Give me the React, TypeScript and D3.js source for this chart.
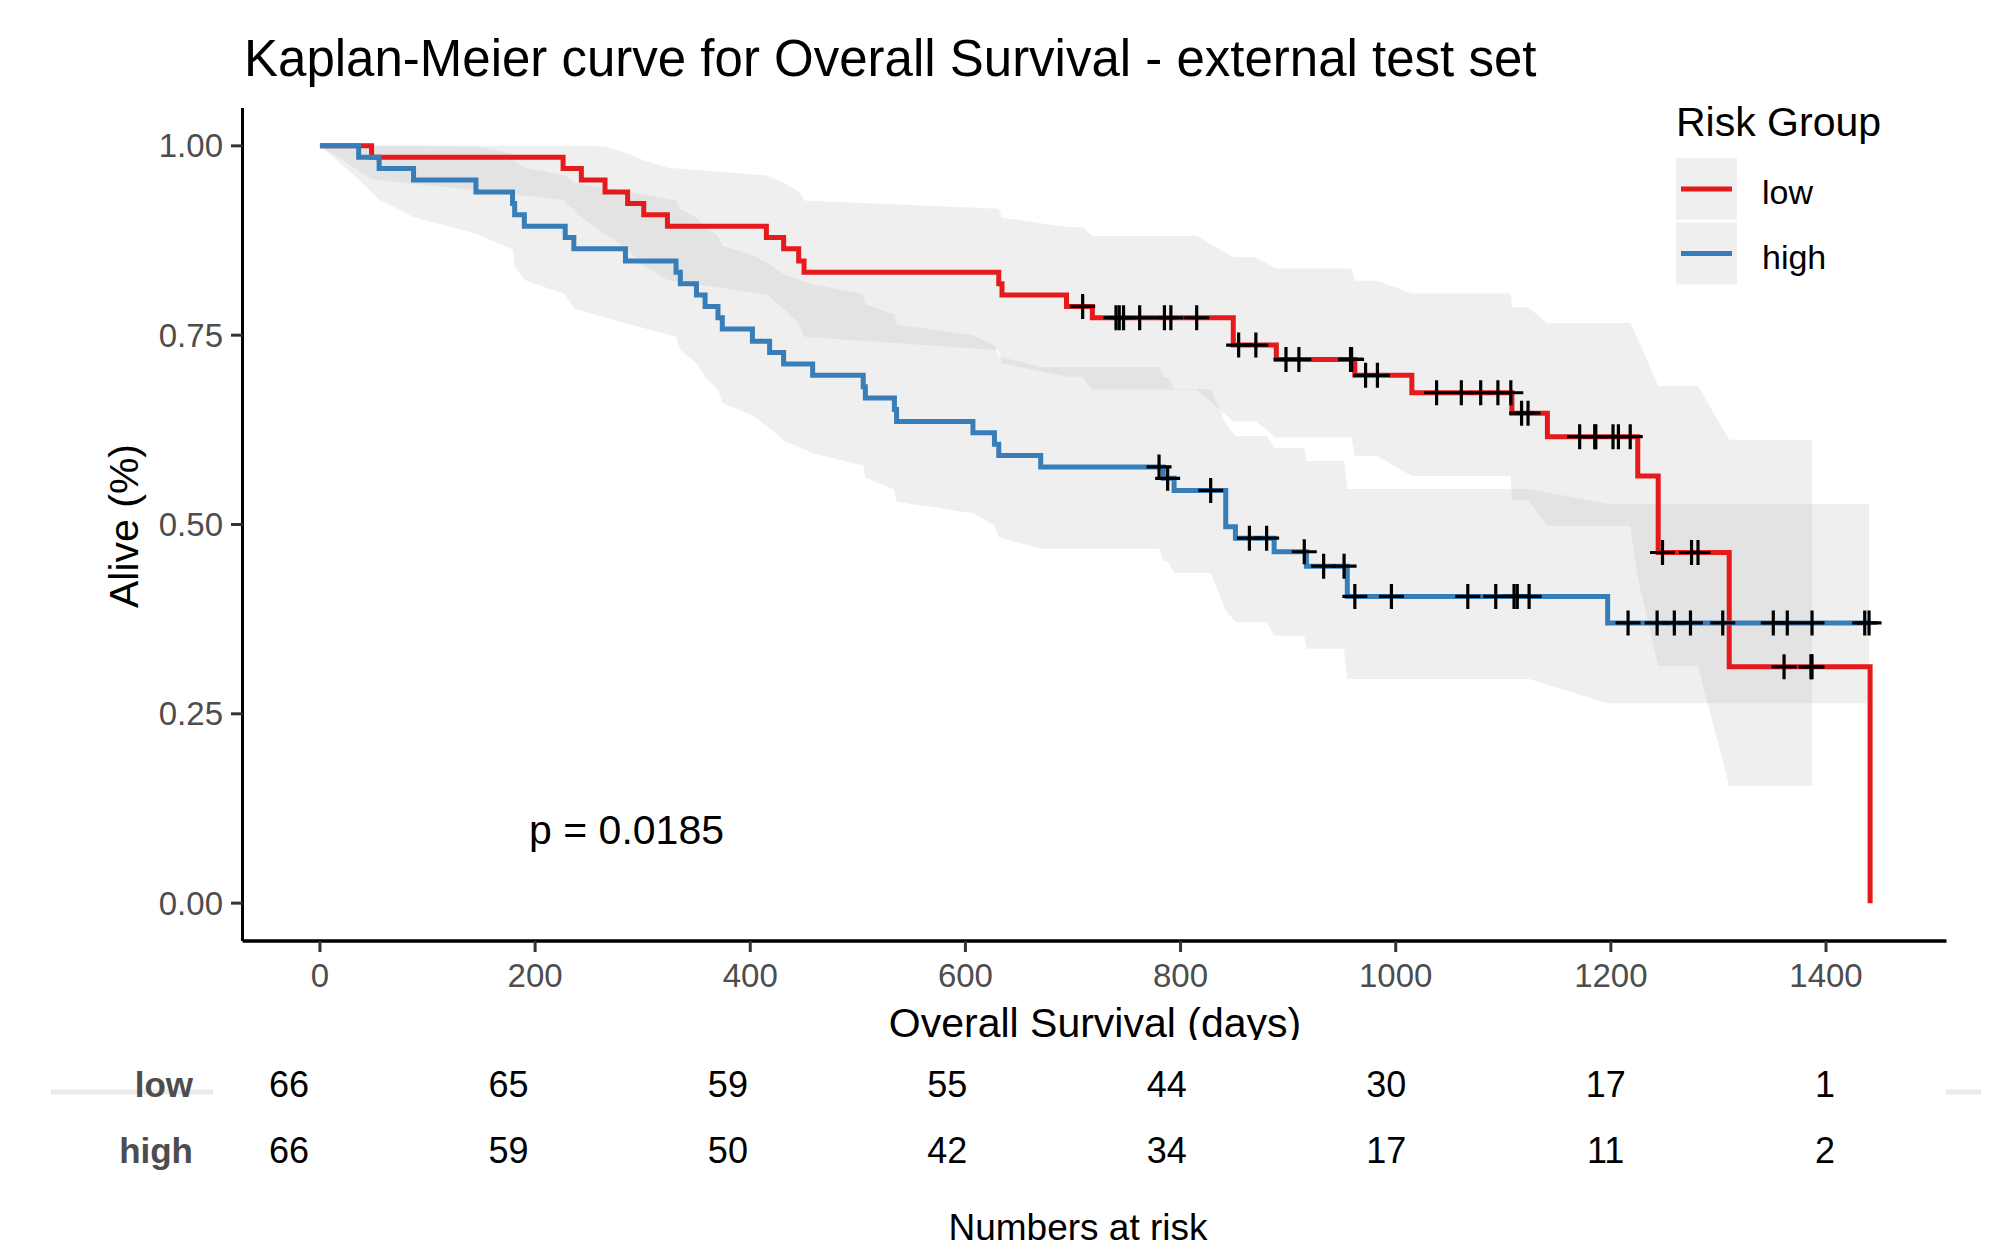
import React from 'react';
import * as d3 from 'd3';

// Kaplan-Meier steps: [day, survival, lower CI, upper CI]
const lowSteps: [number, number, number | null, number | null][] = [
  [48, 0.985, 0.956, 1],
  [226, 0.970, 0.929, 1],
  [243, 0.955, 0.906, 1],
  [265, 0.939, 0.884, 0.999],
  [286, 0.924, 0.863, 0.990],
  [301, 0.909, 0.842, 0.981],
  [323, 0.894, 0.823, 0.971],
  [415, 0.879, 0.804, 0.961],
  [431, 0.864, 0.785, 0.951],
  [445, 0.848, 0.766, 0.940],
  [450, 0.833, 0.748, 0.928],
  [631, 0.818, 0.730, 0.917],
  [634, 0.803, 0.713, 0.905],
  [694, 0.788, 0.695, 0.893],
  [718, 0.773, 0.678, 0.881],
  [849, 0.737, 0.636, 0.853],
  [889, 0.718, 0.615, 0.838],
  [962, 0.697, 0.590, 0.822],
  [1015, 0.674, 0.564, 0.805],
  [1108, 0.647, 0.532, 0.787],
  [1141, 0.616, 0.498, 0.766],
  [1225, 0.564, 0.430, 0.745],
  [1244, 0.463, 0.313, 0.683],
  [1310, 0.312, 0.155, 0.612],
  [1441, 0, null, null],
];

const lowCensored = [
  709, 740, 743, 747, 762, 785, 791, 815, 854, 870, 898, 910, 958, 959, 972, 983,
  1038, 1061, 1079, 1095, 1107, 1117, 1123, 1171, 1185, 1186, 1202, 1207, 1218,
  1248, 1275, 1281, 1361, 1386, 1387,
];

const highSteps: [number, number, number | null, number | null][] = [
  [36, 0.985, 0.956, 1],
  [55, 0.970, 0.929, 1],
  [87, 0.955, 0.906, 1],
  [145, 0.939, 0.884, 0.999],
  [179, 0.924, 0.863, 0.990],
  [181, 0.909, 0.842, 0.981],
  [190, 0.894, 0.823, 0.971],
  [228, 0.879, 0.804, 0.961],
  [236, 0.864, 0.785, 0.951],
  [284, 0.848, 0.766, 0.940],
  [331, 0.833, 0.748, 0.928],
  [335, 0.818, 0.730, 0.917],
  [350, 0.803, 0.713, 0.905],
  [358, 0.788, 0.695, 0.893],
  [370, 0.773, 0.678, 0.881],
  [374, 0.758, 0.661, 0.868],
  [402, 0.742, 0.644, 0.856],
  [418, 0.727, 0.627, 0.843],
  [431, 0.712, 0.611, 0.830],
  [458, 0.697, 0.594, 0.817],
  [505, 0.682, 0.578, 0.804],
  [507, 0.667, 0.562, 0.791],
  [534, 0.652, 0.546, 0.777],
  [536, 0.636, 0.530, 0.764],
  [607, 0.621, 0.515, 0.750],
  [627, 0.606, 0.499, 0.736],
  [631, 0.591, 0.483, 0.722],
  [670, 0.576, 0.468, 0.708],
  [784, 0.561, 0.452, 0.694],
  [794, 0.545, 0.436, 0.679],
  [842, 0.497, 0.387, 0.633],
  [851, 0.482, 0.371, 0.617],
  [887, 0.464, 0.353, 0.601],
  [917, 0.445, 0.336, 0.584],
  [955, 0.405, 0.296, 0.547],
  [1197, 0.370, 0.264, 0.527],
];

const highCensored = [
  780, 788, 828, 864, 880, 915, 933, 952, 962, 996, 1067, 1093, 1110, 1113, 1124,
  1216, 1243, 1259, 1274, 1304, 1351, 1364, 1387, 1436, 1440,
];

const riskTimes = [0, 200, 400, 600, 800, 1000, 1200, 1400];
const riskLow = [66, 65, 59, 55, 44, 30, 17, 1];
const riskHigh = [66, 59, 50, 42, 34, 17, 11, 2];
const yTicks = [0, 0.25, 0.5, 0.75, 1];

const groups = [
  { name: 'low', color: '#E41A1C', steps: lowSteps, censored: lowCensored, risk: riskLow },
  { name: 'high', color: '#377EB8', steps: highSteps, censored: highCensored, risk: riskHigh },
];

const FONT = '"Liberation Sans", Arial, sans-serif';
const W = 2014;
const H = 1249;

const x = d3.scaleLinear().domain([-72, 1512]).range([242.5, 1946.5]);
const y = d3.scaleLinear().domain([-0.05, 1.05]).range([941, 108]);
const xRisk = d3.scaleLinear().domain([-72, 1512]).range([210, 1948]);

// survival value of a step function at time t
function survAt(steps: typeof lowSteps, t: number) {
  let s = 1;
  for (const st of steps) if (st[0] <= t) s = st[1];
  return s;
}

function curvePoints(steps: typeof lowSteps, censored: number[]) {
  const pts: [number, number][] = [[0, 1], ...steps.map((s) => [s[0], s[1]] as [number, number])];
  const last = steps[steps.length - 1];
  const lastCens = d3.max(censored) ?? 0;
  if (lastCens > last[0]) pts.push([lastCens, last[1]]);
  return pts;
}

function ribbonPoints(steps: typeof lowSteps, censored: number[]) {
  const rows: { t: number; lo: number; hi: number }[] = [{ t: 0, lo: 1, hi: 1 }];
  steps.filter((s) => s[2] != null).forEach((s) => rows.push({ t: s[0], lo: s[2] as number, hi: s[3] as number }));
  censored.forEach((c) => {
    let lo = 1, hi = 1;
    for (const s of steps) if (s[0] <= c && s[2] != null) { lo = s[2] as number; hi = s[3] as number; }
    rows.push({ t: c, lo, hi });
  });
  return rows.sort((a, b) => a.t - b.t);
}

const stepLine = d3.line<[number, number]>().x((d) => x(d[0])).y((d) => y(d[1])).curve(d3.curveStepAfter);
const band = d3.area<{ t: number; lo: number; hi: number }>()
  .x((d) => x(d.t)).y0((d) => y(d.lo)).y1((d) => y(d.hi));

export default function App() {
  return (
    <div style={{ position: 'absolute', left: 0, top: 0 }}>
      <svg width={W} height={H} style={{ display: 'block', fontFamily: FONT }}>
        <rect width={W} height={H} fill="#fff" />

        {/* confidence ribbons */}
        {groups.map((g) => (
          <path key={g.name + 'band'} d={band(ribbonPoints(g.steps, g.censored)) || ''} fill="#bebebe" fillOpacity={0.25} />
        ))}

        {/* survival curves */}
        {groups.map((g) => (
          <path key={g.name + 'line'} d={stepLine(curvePoints(g.steps, g.censored)) || ''} fill="none" stroke={g.color} strokeWidth={5} />
        ))}

        {/* censor marks */}
        {groups.map((g) =>
          g.censored.map((c, i) => {
            const cx = x(c);
            const cy = y(survAt(g.steps, c));
            return (
              <path key={g.name + 'c' + i} d={`M${cx - 12.5},${cy}h25M${cx},${cy - 12.5}v25`} stroke="#000" strokeWidth={3.2} />
            );
          })
        )}

        {/* axes */}
        <line x1={242.5} x2={242.5} y1={108} y2={941} stroke="#000" strokeWidth={3} />
        <line x1={242.5} x2={1946.5} y1={941} y2={941} stroke="#000" strokeWidth={3.5} />
        {yTicks.map((t) => (
          <g key={'y' + t}>
            <line x1={231} x2={242.5} y1={y(t)} y2={y(t)} stroke="#333" strokeWidth={3} />
            <text x={223} y={y(t) + 11.5} textAnchor="end" fontSize={33} fill="#4d4d4d">{t.toFixed(2)}</text>
          </g>
        ))}
        {riskTimes.map((t) => (
          <g key={'x' + t}>
            <line x1={x(t)} x2={x(t)} y1={941} y2={952} stroke="#333" strokeWidth={3} />
            <text x={x(t)} y={987} textAnchor="middle" fontSize={33} fill="#4d4d4d">{t}</text>
          </g>
        ))}

        <text x={244} y={76} fontSize={51} fill="#000">Kaplan-Meier curve for Overall Survival - external test set</text>
        <text transform="translate(138,526) rotate(-90)" textAnchor="middle" fontSize={41} fill="#000">Alive (%)</text>
        <text x={x(285)} y={y(0.1) + 17} textAnchor="middle" fontSize={41} fill="#000">p = 0.0185</text>
        <text x={1095} y={1037} textAnchor="middle" fontSize={41} fill="#000">Overall Survival (days)</text>

        {/* legend */}
        <text x={1676} y={136} fontSize={41} fill="#000">Risk Group</text>
        {groups.map((g, i) => (
          <g key={g.name + 'leg'} transform={`translate(1676,${158 + i * 64.5})`}>
            <rect width={61} height={62} fill="#bebebe" fillOpacity={0.25} />
            <line x1={5} x2={56} y1={31} y2={31} stroke={g.color} strokeWidth={5} />
            <text x={86} y={46} fontSize={34} fill="#000">{g.name}</text>
          </g>
        ))}

        {/* risk table */}
        <rect x={0} y={1040} width={W} height={H - 1040} fill="#fff" />
        <line x1={51} x2={213} y1={1092} y2={1092} stroke="#ebebeb" strokeWidth={5} />
        <line x1={1946} x2={1981} y1={1092} y2={1092} stroke="#ebebeb" strokeWidth={5} />
        {groups.map((g, i) => (
          <g key={g.name + 'risk'}>
            <text x={193} y={1097 + i * 66} textAnchor="end" fontSize={35} fontWeight="bold" fill="#4d4d4d">{g.name}</text>
            {g.risk.map((n, j) => (
              <text key={j} x={xRisk(riskTimes[j])} y={1097 + i * 66} textAnchor="middle" fontSize={36} fill="#000">{n}</text>
            ))}
          </g>
        ))}
        <text x={1078} y={1240} textAnchor="middle" fontSize={37} fill="#000">Numbers at risk</text>
      </svg>
    </div>
  );
}
